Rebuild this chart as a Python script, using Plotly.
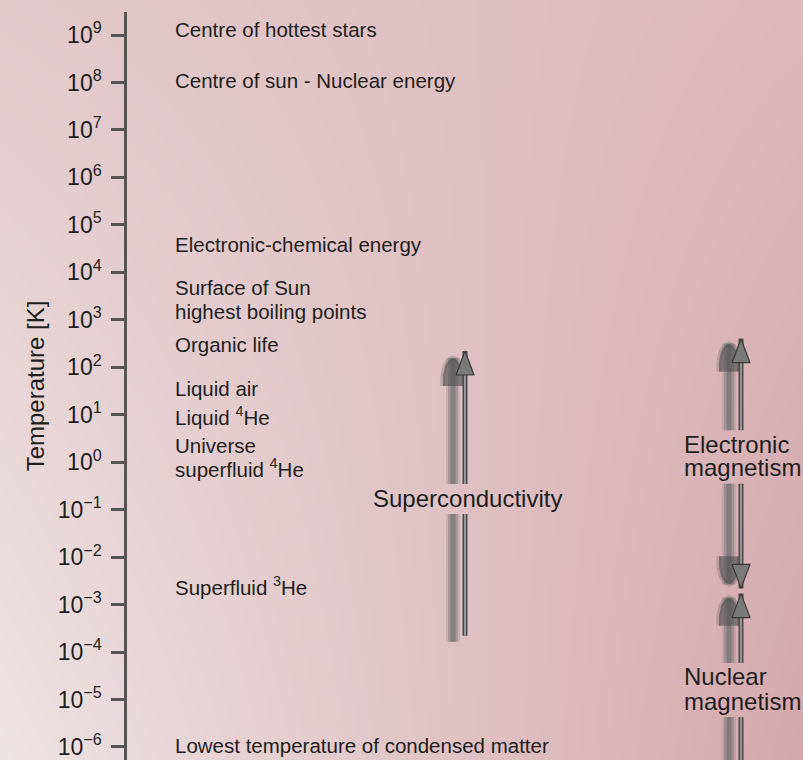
import numpy as np
import plotly.graph_objects as go

FONT = "Liberation Sans, Arial, sans-serif"

# decades on the temperature scale
tick_exp = list(range(-6, 10))
tick_text = ["10<sup>%s</sup>" % str(e).replace("-", "\u2212") for e in tick_exp]

# phenomena listed next to the scale, with the temperature (K) they sit at
label_text = [
    "Centre of hottest stars",
    "Centre of sun - Nuclear energy",
    "Electronic-chemical energy",
    "Surface of Sun",
    "highest boiling points",
    "Organic life",
    "Liquid air",
    "Liquid <sup>4</sup>He",
    "Universe",
    "superfluid <sup>4</sup>He",
    "Superfluid <sup>3</sup>He",
    "Lowest temperature of condensed matter",
]
label_temp = [1.3e9, 1.1e8, 3.8e4, 4.7e3, 1.5e3, 3.0e2, 35, 9.3, 2.2, 0.76, 2.5e-3, 1.05e-6]

# ranges (K) covered by the arrows: (low end, tip)
sc_span = (2.2e-4, 2.2e2)
elec_span = (2.2e-3, 4.0e2)      # double headed: tip up and tip down
nuc_span = (1e-7, 1.7e-3)

# band names drawn across the arrows, one entry per line
sc_lines, sc_temp = ["Superconductivity"], [0.176]
elec_lines, elec_temp = ["Electronic", "magnetism"], [2.4, 0.76]
nuc_lines, nuc_temp = ["Nuclear", "magnetism"], [3.0e-5, 9.3e-6]

# ---- layout geometry -------------------------------------------------------
W, H = 803, 760
Y_TOP, Y_BOT = 9.4845, -6.274
Y_DOM = [0, 1 - 12 / H]
X_DOM = [127 / W, 1]
PPD = (Y_DOM[1] - Y_DOM[0]) * H / (Y_TOP - Y_BOT)   # px per decade
XPX = (X_DOM[1] - X_DOM[0]) * W                      # px across x2 range [0,1]


def up(t, px):
    return t * 10 ** (px / PPD)


def xu(px):
    return (px - 127) / XPX


def shaft(low, high, gaps):
    ys = [low]
    for g0, g1 in sorted(gaps):
        ys += [g0, None, g1]
    ys.append(high)
    return ys


def gaps_for(temps):
    return (up(temps[-1], -16), up(temps[0], 14))


fig = go.Figure()

# background wash
fig.add_trace(go.Heatmap(
    x=[0, 1], y=[0, 1], z=[[0.0, 1.0], [0.45, 0.72]],
    zsmooth="best", showscale=False, hoverinfo="skip",
    colorscale=[[0, "#eee3e3"], [1, "#d4a8ac"]],
    xaxis="x", yaxis="y",
))


def thick_arrow(xc, low, high, gaps, head_up=True, head_down=False):
    ys = shaft(low, high, gaps)
    xs = [None if v is None else xu(xc) for v in ys]
    for w, col in [(14, "rgba(110,110,110,0.2)"), (10, "rgba(110,110,110,0.38)"), (5, "rgba(105,105,105,0.55)")]:
        fig.add_trace(go.Scatter(x=xs, y=ys, mode="lines", line=dict(width=w, color=col),
                                 xaxis="x2", yaxis="y2", hoverinfo="skip", showlegend=False))
    dome_dx = [-10, -10, -8, -4, 0, 4, 8, 10, 10]
    dome_dy = [-28, -18, -8, -2, 0, -2, -8, -18, -28]
    heads = []
    if head_up:
        heads.append((high, 1))
    if head_down:
        heads.append((low, -1))
    for tip, s in heads:
        hx = [xu(xc + d) for d in dome_dx]
        hy = [up(tip, s * d) for d in dome_dy]
        fig.add_trace(go.Scatter(x=hx, y=hy, mode="lines", fill="toself",
                                 fillcolor="rgba(80,80,80,0.6)",
                                 line=dict(width=5, color="rgba(80,80,80,0.25)"),
                                 xaxis="x2", yaxis="y2", hoverinfo="skip", showlegend=False))


def thin_arrow(xc, low, high, gaps, head_up=True, head_down=False):
    ys = shaft(low, high, gaps)
    xs = [None if v is None else xu(xc) for v in ys]
    fig.add_trace(go.Scatter(x=xs, y=ys, mode="lines", line=dict(width=5, color="#4a4a4a"),
                             xaxis="x2", yaxis="y2", hoverinfo="skip", showlegend=False))
    fig.add_trace(go.Scatter(x=xs, y=ys, mode="lines", line=dict(width=2, color="#959595"),
                             xaxis="x2", yaxis="y2", hoverinfo="skip", showlegend=False))
    heads = []
    if head_up:
        heads.append((high, 1))
    if head_down:
        heads.append((low, -1))
    for tip, s in heads:
        hx = [xu(xc - 9), xu(xc), xu(xc + 9), xu(xc - 9)]
        hy = [up(tip, -s * 24), tip, up(tip, -s * 24), up(tip, -s * 24)]
        fig.add_trace(go.Scatter(x=hx, y=hy, mode="lines", fill="toself",
                                 fillcolor="#7a7a7a", line=dict(width=1.2, color="#3a3a3a"),
                                 xaxis="x2", yaxis="y2", hoverinfo="skip", showlegend=False))


sc_gap = [gaps_for(sc_temp)]
thick_arrow(453, up(sc_span[0], -6), up(sc_span[1], -7), sc_gap)
thin_arrow(465, sc_span[0], sc_span[1], sc_gap)

el_gap = [gaps_for(elec_temp)]
thick_arrow(729, up(elec_span[0], 4), up(elec_span[1], -5), el_gap, head_down=True)
thin_arrow(741, elec_span[0], elec_span[1], el_gap, head_down=True)

nu_gap = [gaps_for(nuc_temp)]
thick_arrow(729, nuc_span[0], up(nuc_span[1], -4), nu_gap)
thin_arrow(741, nuc_span[0], nuc_span[1], nu_gap)

annotations = []
for txt, t in zip(label_text, label_temp):
    annotations.append(dict(x=xu(173), y=np.log10(t), xref="x2", yref="y2", text=txt,
                            showarrow=False, xanchor="left", yanchor="middle",
                            font=dict(family=FONT, size=20.5, color="#1e1e1e")))
for txt, t in zip(sc_lines, sc_temp):
    annotations.append(dict(x=xu(467), y=np.log10(t), xref="x2", yref="y2", text=txt,
                            showarrow=False, xanchor="center", yanchor="middle",
                            font=dict(family=FONT, size=24, color="#1e1e1e")))
for txt, t in zip(elec_lines + nuc_lines, elec_temp + nuc_temp):
    annotations.append(dict(x=xu(682), y=np.log10(t), xref="x2", yref="y2", text=txt,
                            showarrow=False, xanchor="left", yanchor="middle",
                            font=dict(family=FONT, size=24, color="#1e1e1e")))

fig.update_layout(
    width=W, height=H,
    margin=dict(l=0, r=0, t=0, b=0),
    paper_bgcolor="#e3cdcf", plot_bgcolor="rgba(0,0,0,0)",
    showlegend=False,
    font=dict(family=FONT, color="#1e1e1e"),
    xaxis=dict(domain=[0, 1], range=[0, 1], visible=False, fixedrange=True),
    yaxis=dict(domain=[0, 1], range=[0, 1], visible=False, fixedrange=True),
    xaxis2=dict(domain=X_DOM, range=[0, 1], visible=False, anchor="y2"),
    yaxis2=dict(
        domain=Y_DOM, anchor="x2", type="log", range=[Y_BOT, Y_TOP],
        tickvals=[10.0 ** e for e in tick_exp], ticktext=tick_text,
        ticks="outside", ticklen=13, tickwidth=2.5, tickcolor="#555",
        showline=True, linewidth=2.5, linecolor="#555",
        showgrid=False, zeroline=False, automargin=False,
        ticklabelstandoff=5, ticklabeloverflow="allow",
        tickfont=dict(family=FONT, size=23, color="#1e1e1e"),
        title=dict(text="Temperature [K]", font=dict(family=FONT, size=24, color="#1e1e1e"), standoff=7),
    ),
    annotations=annotations,
)

fig.write_html(
    "out.html",
    config={"displayModeBar": False},
    post_script="document.body.style.margin='0';document.body.style.overflow='hidden';",
)
